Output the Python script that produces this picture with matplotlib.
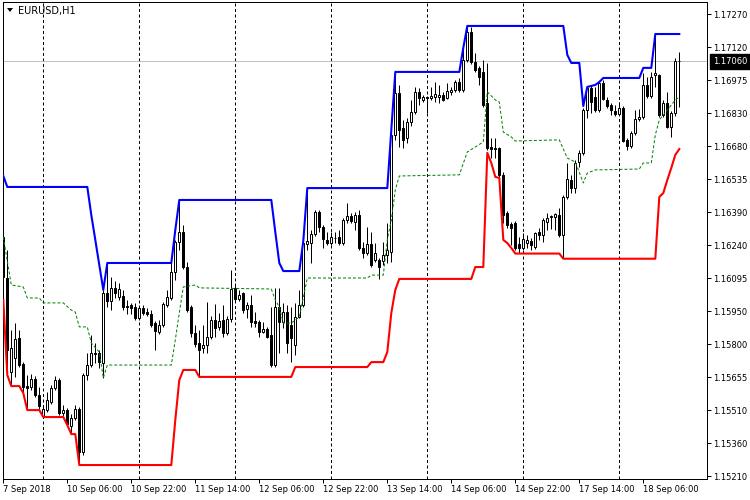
import numpy as np
import matplotlib
matplotlib.use('Agg')
import matplotlib.pyplot as plt
import matplotlib.transforms as mtransforms
from matplotlib.patches import Polygon

# EURUSD H1 candles, 7 Sep 14:00 .. 18 Sep 15:00
opens = [1.16276, 1.16093, 1.15674, 1.15736, 1.15826, 1.15710, 1.15611, 1.15607, 1.15643, 1.15571,
         1.15478, 1.15504, 1.15540, 1.15603, 1.15638, 1.15491, 1.15504, 1.15433, 1.15469, 1.15509,
         1.15317, 1.15660, 1.15705, 1.15759, 1.15759, 1.15714, 1.16026, 1.15991, 1.16049, 1.16008,
         1.16013, 1.15968, 1.15973, 1.15964, 1.15915, 1.15959, 1.15941, 1.15933, 1.15892, 1.15852,
         1.15883, 1.15973, 1.16004, 1.16120, 1.16254, 1.16298, 1.16142, 1.15964, 1.15848, 1.15803,
         1.15781, 1.15794, 1.15830, 1.15906, 1.15875, 1.15906, 1.15848, 1.15910, 1.16049, 1.15999,
         1.16026, 1.15955, 1.15973, 1.15901, 1.15897, 1.15852, 1.15866, 1.15839, 1.15705, 1.15964,
         1.15897, 1.15941, 1.15883, 1.15794, 1.15919, 1.15973, 1.16245, 1.16249, 1.16289, 1.16387,
         1.16321, 1.16263, 1.16249, 1.16272, 1.16276, 1.16249, 1.16352, 1.16370, 1.16343, 1.16374,
         1.16227, 1.16205, 1.16245, 1.16173, 1.16173, 1.16169, 1.16196, 1.16209, 1.16731, 1.16918,
         1.16762, 1.16718, 1.16789, 1.16833, 1.16923, 1.16887, 1.16900, 1.16896, 1.16900, 1.16900,
         1.16909, 1.16896, 1.16923, 1.16932, 1.16967, 1.16932, 1.17065, 1.17190, 1.17056, 1.17030,
         1.17012, 1.16874, 1.16677, 1.16673, 1.16673, 1.16553, 1.16383, 1.16334, 1.16338, 1.16245,
         1.16227, 1.16249, 1.16258, 1.16231, 1.16298, 1.16285, 1.16343, 1.16365, 1.16365, 1.16374,
         1.16285, 1.16454, 1.16530, 1.16494, 1.16610, 1.16651, 1.16842, 1.16941, 1.16900, 1.16842,
         1.16963, 1.16887, 1.16865, 1.16838, 1.16825, 1.16851, 1.16709, 1.16682, 1.16740, 1.16802,
         1.16811, 1.16954, 1.16905, 1.16998, 1.16998, 1.16820, 1.16874, 1.16767, 1.16829, 1.17062]
highs = [1.16298, 1.16218, 1.15861, 1.15892, 1.15861, 1.15718, 1.15660, 1.15665, 1.15656, 1.15607,
         1.15527, 1.15585, 1.15616, 1.15656, 1.15647, 1.15527, 1.15513, 1.15487, 1.15527, 1.15518,
         1.15669, 1.15759, 1.15839, 1.15803, 1.15772, 1.16040, 1.16160, 1.16098, 1.16080, 1.16071,
         1.16040, 1.15995, 1.15982, 1.15982, 1.15973, 1.15973, 1.15959, 1.15950, 1.15901, 1.15906,
         1.15986, 1.16040, 1.16164, 1.16263, 1.16441, 1.16329, 1.16164, 1.15973, 1.15883, 1.15861,
         1.15883, 1.15986, 1.15924, 1.15977, 1.15937, 1.15973, 1.15924, 1.16129, 1.16071, 1.16040,
         1.16031, 1.15986, 1.16017, 1.15941, 1.15906, 1.15897, 1.15875, 1.15964, 1.16049, 1.16049,
         1.15982, 1.15973, 1.15964, 1.15982, 1.16040, 1.16258, 1.16494, 1.16307, 1.16396, 1.16396,
         1.16329, 1.16298, 1.16298, 1.16298, 1.16307, 1.16361, 1.16428, 1.16383, 1.16387, 1.16396,
         1.16254, 1.16321, 1.16298, 1.16249, 1.16182, 1.16254, 1.16338, 1.16753, 1.17012, 1.16954,
         1.16798, 1.16807, 1.16887, 1.16945, 1.16941, 1.16909, 1.16905, 1.16945, 1.16967, 1.16954,
         1.16923, 1.16963, 1.16945, 1.16976, 1.16985, 1.17119, 1.17217, 1.17213, 1.17097, 1.17039,
         1.17065, 1.17052, 1.16718, 1.16718, 1.16677, 1.16566, 1.16392, 1.16343, 1.16347, 1.16276,
         1.16294, 1.16285, 1.16272, 1.16298, 1.16316, 1.16361, 1.16383, 1.16374, 1.16383, 1.16405,
         1.16463, 1.16606, 1.16553, 1.16619, 1.16664, 1.16851, 1.16949, 1.16954, 1.16945, 1.16967,
         1.16976, 1.16900, 1.16874, 1.16865, 1.16878, 1.16860, 1.16718, 1.16749, 1.16842, 1.16847,
         1.17007, 1.16990, 1.17012, 1.17177, 1.17003, 1.16887, 1.16923, 1.16838, 1.17074, 1.17101]
lows = [1.15995, 1.15674, 1.15611, 1.15652, 1.15696, 1.15580, 1.15504, 1.15594, 1.15562, 1.15504,
        1.15473, 1.15495, 1.15531, 1.15594, 1.15482, 1.15478, 1.15437, 1.15397, 1.15460, 1.15259,
        1.15304, 1.15638, 1.15696, 1.15714, 1.15692, 1.15647, 1.15964, 1.15950, 1.16004, 1.15995,
        1.15950, 1.15933, 1.15933, 1.15906, 1.15906, 1.15928, 1.15924, 1.15875, 1.15772, 1.15843,
        1.15875, 1.15964, 1.15995, 1.16084, 1.16218, 1.16133, 1.15941, 1.15830, 1.15785, 1.15652,
        1.15759, 1.15759, 1.15821, 1.15830, 1.15861, 1.15830, 1.15839, 1.15897, 1.15991, 1.15991,
        1.15937, 1.15915, 1.15875, 1.15875, 1.15830, 1.15848, 1.15826, 1.15696, 1.15696, 1.15759,
        1.15870, 1.15759, 1.15718, 1.15750, 1.15915, 1.15964, 1.16218, 1.16160, 1.16280, 1.16298,
        1.16227, 1.16240, 1.16240, 1.16249, 1.16240, 1.16240, 1.16338, 1.16338, 1.16307, 1.16218,
        1.16182, 1.16196, 1.16142, 1.16164, 1.16089, 1.16151, 1.16160, 1.16164, 1.16709, 1.16677,
        1.16673, 1.16695, 1.16771, 1.16825, 1.16865, 1.16878, 1.16829, 1.16887, 1.16878, 1.16874,
        1.16883, 1.16891, 1.16909, 1.16923, 1.16923, 1.16923, 1.17056, 1.17048, 1.17012, 1.16954,
        1.16856, 1.16664, 1.16628, 1.16628, 1.16544, 1.16338, 1.16316, 1.16240, 1.16218, 1.16205,
        1.16218, 1.16227, 1.16218, 1.16222, 1.16263, 1.16254, 1.16307, 1.16312, 1.16307, 1.16276,
        1.16182, 1.16445, 1.16472, 1.16472, 1.16588, 1.16642, 1.16807, 1.16829, 1.16833, 1.16833,
        1.16887, 1.16851, 1.16820, 1.16816, 1.16820, 1.16700, 1.16664, 1.16673, 1.16731, 1.16793,
        1.16802, 1.16896, 1.16896, 1.16945, 1.16811, 1.16811, 1.16762, 1.16722, 1.16816, 1.16856]
closes = [1.16098, 1.15772, 1.15781, 1.15821, 1.15705, 1.15607, 1.15603, 1.15643, 1.15571, 1.15522,
          1.15509, 1.15549, 1.15603, 1.15638, 1.15491, 1.15504, 1.15442, 1.15469, 1.15509, 1.15317,
          1.15660, 1.15705, 1.15759, 1.15754, 1.15718, 1.16026, 1.15991, 1.16049, 1.16026, 1.16044,
          1.15964, 1.15964, 1.15959, 1.15915, 1.15959, 1.15937, 1.15933, 1.15883, 1.15857, 1.15883,
          1.15977, 1.16008, 1.16120, 1.16254, 1.16298, 1.16142, 1.15950, 1.15848, 1.15799, 1.15772,
          1.15794, 1.15830, 1.15906, 1.15870, 1.15901, 1.15848, 1.15910, 1.16044, 1.15999, 1.16017,
          1.15950, 1.15973, 1.15897, 1.15892, 1.15852, 1.15866, 1.15830, 1.15705, 1.15964, 1.15897,
          1.15941, 1.15803, 1.15826, 1.15919, 1.15973, 1.16249, 1.16258, 1.16289, 1.16387, 1.16321,
          1.16267, 1.16249, 1.16276, 1.16270, 1.16249, 1.16352, 1.16370, 1.16347, 1.16374, 1.16227,
          1.16205, 1.16245, 1.16151, 1.16205, 1.16142, 1.16196, 1.16218, 1.16731, 1.16918, 1.16753,
          1.16709, 1.16789, 1.16833, 1.16923, 1.16896, 1.16900, 1.16896, 1.16905, 1.16914, 1.16909,
          1.16887, 1.16927, 1.16932, 1.16967, 1.16932, 1.17065, 1.17190, 1.17056, 1.17021, 1.16990,
          1.16865, 1.16673, 1.16668, 1.16668, 1.16553, 1.16374, 1.16329, 1.16316, 1.16227, 1.16227,
          1.16267, 1.16263, 1.16240, 1.16294, 1.16285, 1.16352, 1.16361, 1.16370, 1.16379, 1.16285,
          1.16454, 1.16535, 1.16494, 1.16606, 1.16651, 1.16842, 1.16941, 1.16878, 1.16842, 1.16963,
          1.16891, 1.16860, 1.16842, 1.16825, 1.16851, 1.16704, 1.16682, 1.16740, 1.16802, 1.16811,
          1.16954, 1.16905, 1.16990, 1.17007, 1.16820, 1.16874, 1.16767, 1.16829, 1.17062, 1.17060]

# price channel lines (bar index, price) at their corners
upper_idx = [0, 1, 21, 22, 23, 24, 25, 26, 42, 43, 44, 67, 68, 69, 70, 74, 75, 76, 96, 97, 98, 114, 115,
             116, 140, 141, 142, 144, 145, 146, 148, 149, 150, 159, 160, 162, 163, 169]
upper_val = [1.16548, 1.16499, 1.16499, 1.16374, 1.16263, 1.16151, 1.16040, 1.16160, 1.16160, 1.16307,
             1.16441, 1.16441, 1.16298, 1.16160, 1.16124, 1.16124, 1.16258, 1.16494, 1.16494, 1.16753,
             1.17012, 1.17012, 1.17119, 1.17217, 1.17217, 1.17088, 1.17052, 1.17052, 1.16860, 1.16945,
             1.16954, 1.16967, 1.16985, 1.16985, 1.17030, 1.17030, 1.17181, 1.17181]
lower_idx = [0, 1, 2, 4, 5, 6, 9, 10, 15, 16, 17, 18, 19, 42, 43, 44, 45, 48, 49, 72, 73, 91, 92, 95,
             96, 97, 98, 99, 117, 118, 120, 121, 122, 123, 124, 125, 126, 127, 128, 139, 140, 163,
             164, 165, 166, 167, 168, 169]
lower_val = [1.15995, 1.15660, 1.15611, 1.15611, 1.15580, 1.15504, 1.15504, 1.15473, 1.15473, 1.15437,
             1.15397, 1.15397, 1.15259, 1.15259, 1.15460, 1.15638, 1.15683, 1.15683, 1.15652, 1.15652,
             1.15696, 1.15696, 1.15718, 1.15718, 1.15763, 1.15937, 1.16040, 1.16089, 1.16089, 1.16142,
             1.16142, 1.16651, 1.16606, 1.16544, 1.16539, 1.16263, 1.16249, 1.16227, 1.16202, 1.16202,
             1.16179, 1.16179, 1.16454, 1.16472, 1.16530, 1.16584, 1.16642, 1.16668]
mid_idx = [0, 2, 5, 6, 9, 10, 15, 17, 18, 19, 21, 22, 24, 25, 26, 42, 43, 44, 45, 48, 49, 67, 68, 69,
           70, 72, 74, 76, 91, 92, 95, 96, 97, 98, 99, 114, 116, 118, 120, 121, 123, 124, 125, 127,
           128, 139, 141, 143, 145, 146, 148, 159, 160, 162, 163, 164, 166, 168, 169]
mid_val = [1.16276, 1.16062, 1.16053, 1.16004, 1.16004, 1.15982, 1.15982, 1.15950, 1.15941, 1.15875,
           1.15875, 1.15803, 1.15763, 1.15647, 1.15705, 1.15705, 1.15817, 1.15937, 1.16053, 1.16062,
           1.16049, 1.16044, 1.15995, 1.15964, 1.15892, 1.15892, 1.15919, 1.16093, 1.16093, 1.16106,
           1.16106, 1.16263, 1.16352, 1.16486, 1.16548, 1.16553, 1.16655, 1.16677, 1.16700, 1.16923,
           1.16887, 1.16878, 1.16744, 1.16722, 1.16704, 1.16709, 1.16628, 1.16610, 1.16517, 1.16561,
           1.16575, 1.16579, 1.16606, 1.16606, 1.16731, 1.16798, 1.16842, 1.16887, 1.16900]

xtick_idx = [0, 16, 32, 48, 64, 80, 96, 112, 128, 144, 160]
xtick_labels = ['7 Sep 2018', '10 Sep 06:00', '10 Sep 22:00', '11 Sep 14:00', '12 Sep 06:00',
                '12 Sep 22:00', '13 Sep 14:00', '14 Sep 06:00', '14 Sep 22:00', '17 Sep 14:00',
                '18 Sep 06:00']
day_starts = [10, 34, 58, 82, 106, 130, 154]
price_labels = ['1.15210', '1.15360', '1.15510', '1.15655', '1.15800', '1.15950', '1.16095', '1.16240',
                '1.16390', '1.16535', '1.16680', '1.16830', '1.16975', '1.17120', '1.17270']
last_price = 1.17060

px = 0.72  # one pixel in points at dpi 100

fig = plt.figure(figsize=(7.5, 5), dpi=100)
ax = fig.add_axes([2.5 / 750, 21.5 / 500, 704 / 750, 477 / 500])

for d in day_starts:
    ax.axvline(d, color='black', lw=px, ls=(0, (3, 2.5)), zorder=1)
ax.axhline(last_price, color='#c0c0c0', lw=px, zorder=1)

idx = np.arange(len(closes))
o = np.array(opens)
c = np.array(closes)
ax.vlines(idx, lows, highs, color='black', lw=px, zorder=3)
body_colors = ['white' if c[i] >= o[i] else 'black' for i in idx]
ax.bar(idx, np.abs(c - o), bottom=np.minimum(o, c), width=0.5, color=body_colors,
       edgecolor='black', linewidth=px, zorder=4)

ax.plot(mid_idx, mid_val, color='#008000', lw=px, ls=(0, (3, 2)), zorder=5)
ax.plot(upper_idx, upper_val, color='#0000ff', lw=1.5, zorder=6)
ax.plot(lower_idx, lower_val, color='#ff0000', lw=1.5, zorder=6)

ax.set_xlim(-0.2, 175.8)
ax.set_ylim(1.15199, 1.17326)
ax.set_xticks(xtick_idx)
ax.set_xticklabels(xtick_labels, ha='left')
ax.yaxis.tick_right()
ax.set_yticks(np.linspace(1.15210, 1.17270, 15))
ax.set_yticklabels(price_labels)
ax.tick_params(axis='both', direction='out', length=3, width=px, labelsize=6, pad=1.5, colors='black')
for s in ax.spines.values():
    s.set_linewidth(px)
    s.set_color('black')

# last price tag on the right scale
trans = mtransforms.blended_transform_factory(ax.transAxes, ax.transData)
ax.annotate('1.17060', xy=(1, last_price), xycoords=trans, xytext=(4.5, 0), textcoords='offset points',
            ha='left', va='center', fontsize=6, color='white', annotation_clip=False,
            bbox=dict(boxstyle='square,pad=0.35', fc='black', ec='black'))

fig.text(18 / 750, 1 - 11 / 500, 'EURUSD,H1', fontsize=7, va='center', ha='left')
fig.patches.append(Polygon([[7 / 750, 1 - 8 / 500], [13 / 750, 1 - 8 / 500], [10 / 750, 1 - 12 / 500]],
                           closed=True, fc='black', ec='none', transform=fig.transFigure, figure=fig))

fig.savefig('out.png', dpi=100)
